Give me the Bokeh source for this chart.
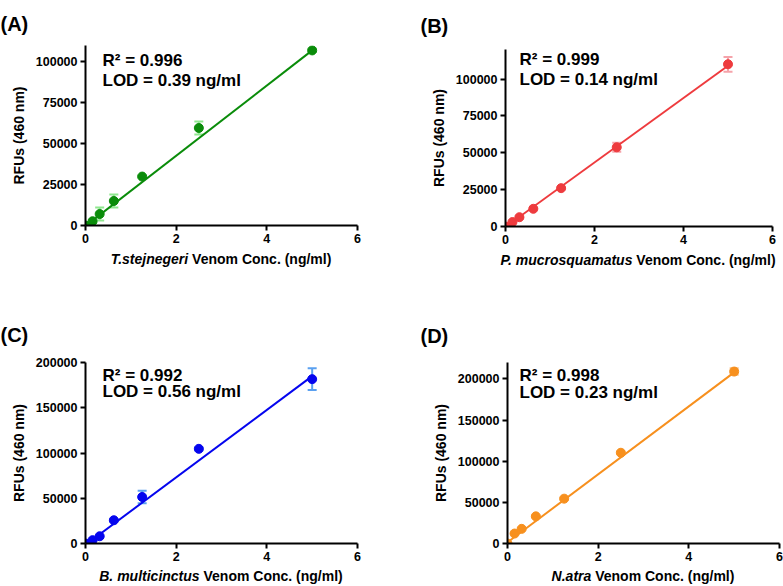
from bokeh.plotting import figure
from bokeh.models import (Whisker, TeeHead, ColumnDataSource, FixedTicker, Label,
                          Range1d, NumeralTickFormatter, Div)
from bokeh.layouts import row, column
from bokeh.embed import file_html
from bokeh.resources import INLINE

# ---------------- data ----------------
conc = [0, 0.156, 0.3125, 0.625, 1.25, 2.5, 5]
x_ticks = [0, 2, 4, 6]

a_rfu = [0, 2600, 7000, 15000, 29900, 59600, 107000]
a_err = [0, 800, 4000, 4000, 600, 4000, 1000]
a_fit_x = [0, 5]
a_fit_y = [-300, 107000]
a_yticks = [0, 25000, 50000, 75000, 100000]
a_ymax = 110000

b_rfu = [0, 3000, 6300, 12000, 26000, 53700, 110000]
b_err = [0, 600, 800, 600, 700, 3000, 5000]
b_fit_x = [0, 5]
b_fit_y = [-300, 109000]
b_yticks = [0, 25000, 50000, 75000, 100000]
b_ymax = 120000

c_rfu = [0, 3700, 8000, 25700, 51400, 104600, 181600]
c_err = [0, 600, 1200, 1500, 7000, 1500, 12000]
c_fit_x = [0, 5]
c_fit_y = [-1500, 185000]
c_yticks = [0, 50000, 100000, 150000, 200000]
c_ymax = 200000

d_rfu = [0, 12100, 17800, 33000, 54500, 110300, 209000]
d_err = [0, 1000, 1000, 1200, 1200, 1500, 4000]
d_fit_x = [0, 5]
d_fit_y = [1500, 208000]
d_yticks = [0, 50000, 100000, 150000, 200000]
d_ymax = 220000

FONT = "Liberation Sans"


def make_panel(rfu, err, fit_x, fit_y, yticks, ymax, color, err_color,
               left, right, top, fw, fh, bottom, col_h,
               tag, tag_dx, tag_gap, r2, lod, species, rest, txt_dx, txt_dy, xlabel_top):
    W = left + fw + right
    H = top + fh + bottom
    p = figure(width=W, height=H, x_range=Range1d(0, 6), y_range=Range1d(0, ymax),
               output_backend="svg", toolbar_location=None,
               min_border_left=left, min_border_right=right,
               min_border_top=top, min_border_bottom=bottom)
    p.outline_line_color = None
    p.xgrid.visible = False
    p.ygrid.visible = False
    p.background_fill_color = "white"
    p.border_fill_color = "white"

    # panel tag as title
    p.title.text = tag
    p.title.align = "left"
    p.title.offset = tag_dx - left
    p.title.standoff = tag_gap
    p.title.text_font = FONT
    p.title.text_font_style = "bold"
    p.title.text_font_size = "20px"
    p.title.text_color = "black"

    def X(dx):
        return dx / fw * 6

    def Y(dy):
        return dy / fh * ymax

    for ax in (p.xaxis[0], p.yaxis[0]):
        ax.axis_line_width = 2
        ax.axis_line_color = "black"
        ax.major_tick_line_width = 2
        ax.major_tick_line_color = "black"
        ax.major_tick_out = 5
        ax.major_tick_in = 0
        ax.minor_tick_line_color = None
        ax.major_label_text_font = FONT
        ax.major_label_text_font_style = "bold"
        ax.major_label_text_font_size = "12.5px"
        ax.major_label_text_color = "black"
        ax.major_label_standoff = 3
    p.xaxis.ticker = FixedTicker(ticks=x_ticks)
    p.yaxis.ticker = FixedTicker(ticks=yticks)
    p.yaxis.formatter = NumeralTickFormatter(format="0")
    p.xaxis.formatter = NumeralTickFormatter(format="0")
    p.yaxis.axis_label = "RFUs (460 nm)"
    p.yaxis.axis_label_text_font = FONT
    p.yaxis.axis_label_text_font_style = "bold"
    p.yaxis.axis_label_text_font_size = "14px"
    p.yaxis.axis_label_text_color = "black"
    p.yaxis.axis_label_standoff = 6

    src = ColumnDataSource(dict(x=conc, y=rfu,
                                upper=[v + e for v, e in zip(rfu, err)],
                                lower=[v - e for v, e in zip(rfu, err)]))
    wh = Whisker(base="x", upper="upper", lower="lower", source=src,
                 line_color=err_color, line_width=2,
                 upper_head=TeeHead(size=9, line_color=err_color, line_width=2),
                 lower_head=TeeHead(size=9, line_color=err_color, line_width=2),
                 level="underlay")
    p.add_layout(wh)
    p.line(fit_x, fit_y, line_color=color, line_width=2)
    p.scatter("x", "y", source=src, size=9, fill_color=color, line_color=color)

    # statistics text
    for txt, dy in ((r2, txt_dy[0]), (lod, txt_dy[1])):
        p.add_layout(Label(x=X(txt_dx), y=Y(dy), text=txt, text_font=FONT,
                           text_font_style="bold", text_font_size="17px",
                           text_baseline="middle", text_align="left", text_color="black"))

    # x-axis label: italic species + bold text, centred under the frame
    cx = left + fw / 2
    html = ('<div style="position:absolute; left:%dpx; top:%dpx; transform:translateX(-50%%); '
            'white-space:nowrap; font-family:\'Liberation Sans\', Arial, sans-serif; font-size:14px; '
            'font-weight:bold; line-height:16px; color:black;"><i>%s</i> %s</div>'
            % (cx, xlabel_top, species, rest))
    d = Div(text=html, width=W, height=col_h - H, margin=0,
            styles={"overflow": "visible"})
    return column(p, d)


pA = make_panel(a_rfu, a_err, a_fit_x, a_fit_y, a_yticks, a_ymax, "#0a8c0a", "#8fe88f",
                85, 33, 43, 272, 182, 25, 290,
                "(A)", 0, 21, "R² = 0.996", "LOD = 0.39 ng/ml", "T.stejnegeri", "Venom Conc. (ng/ml)",
                17, (167, 147), 1)
pB = make_panel(b_rfu, b_err, b_fit_x, b_fit_y, b_yticks, b_ymax, "#ee3b3e", "#f5a3aa",
                115, 11, 48, 267, 178, 25, 290,
                "(B)", 30, 25, "R² = 0.999", "LOD = 0.14 ng/ml", "P. mucrosquamatus", "Venom Conc. (ng/ml)",
                14, (168, 148), 1)
pC = make_panel(c_rfu, c_err, c_fit_x, c_fit_y, c_yticks, c_ymax, "#0505ee", "#5aa0f0",
                85, 33, 72, 272, 181, 25, 296,
                "(C)", 0, 33, "R² = 0.992", "LOD = 0.56 ng/ml", "B. multicinctus", "Venom Conc. (ng/ml)",
                17, (168, 152), 0)
pD = make_panel(d_rfu, d_err, d_fit_x, d_fit_y, d_yticks, d_ymax, "#f7901e", "#fbbf80",
                117, 4, 72, 272, 181, 25, 296,
                "(D)", 30, 31, "R² = 0.998", "LOD = 0.23 ng/ml", "N.atra", "Venom Conc. (ng/ml)",
                12, (168, 151), 0)

layout = column(row(pA, pB), row(pC, pD))

open("out.html", "w").write(file_html(layout, INLINE))
